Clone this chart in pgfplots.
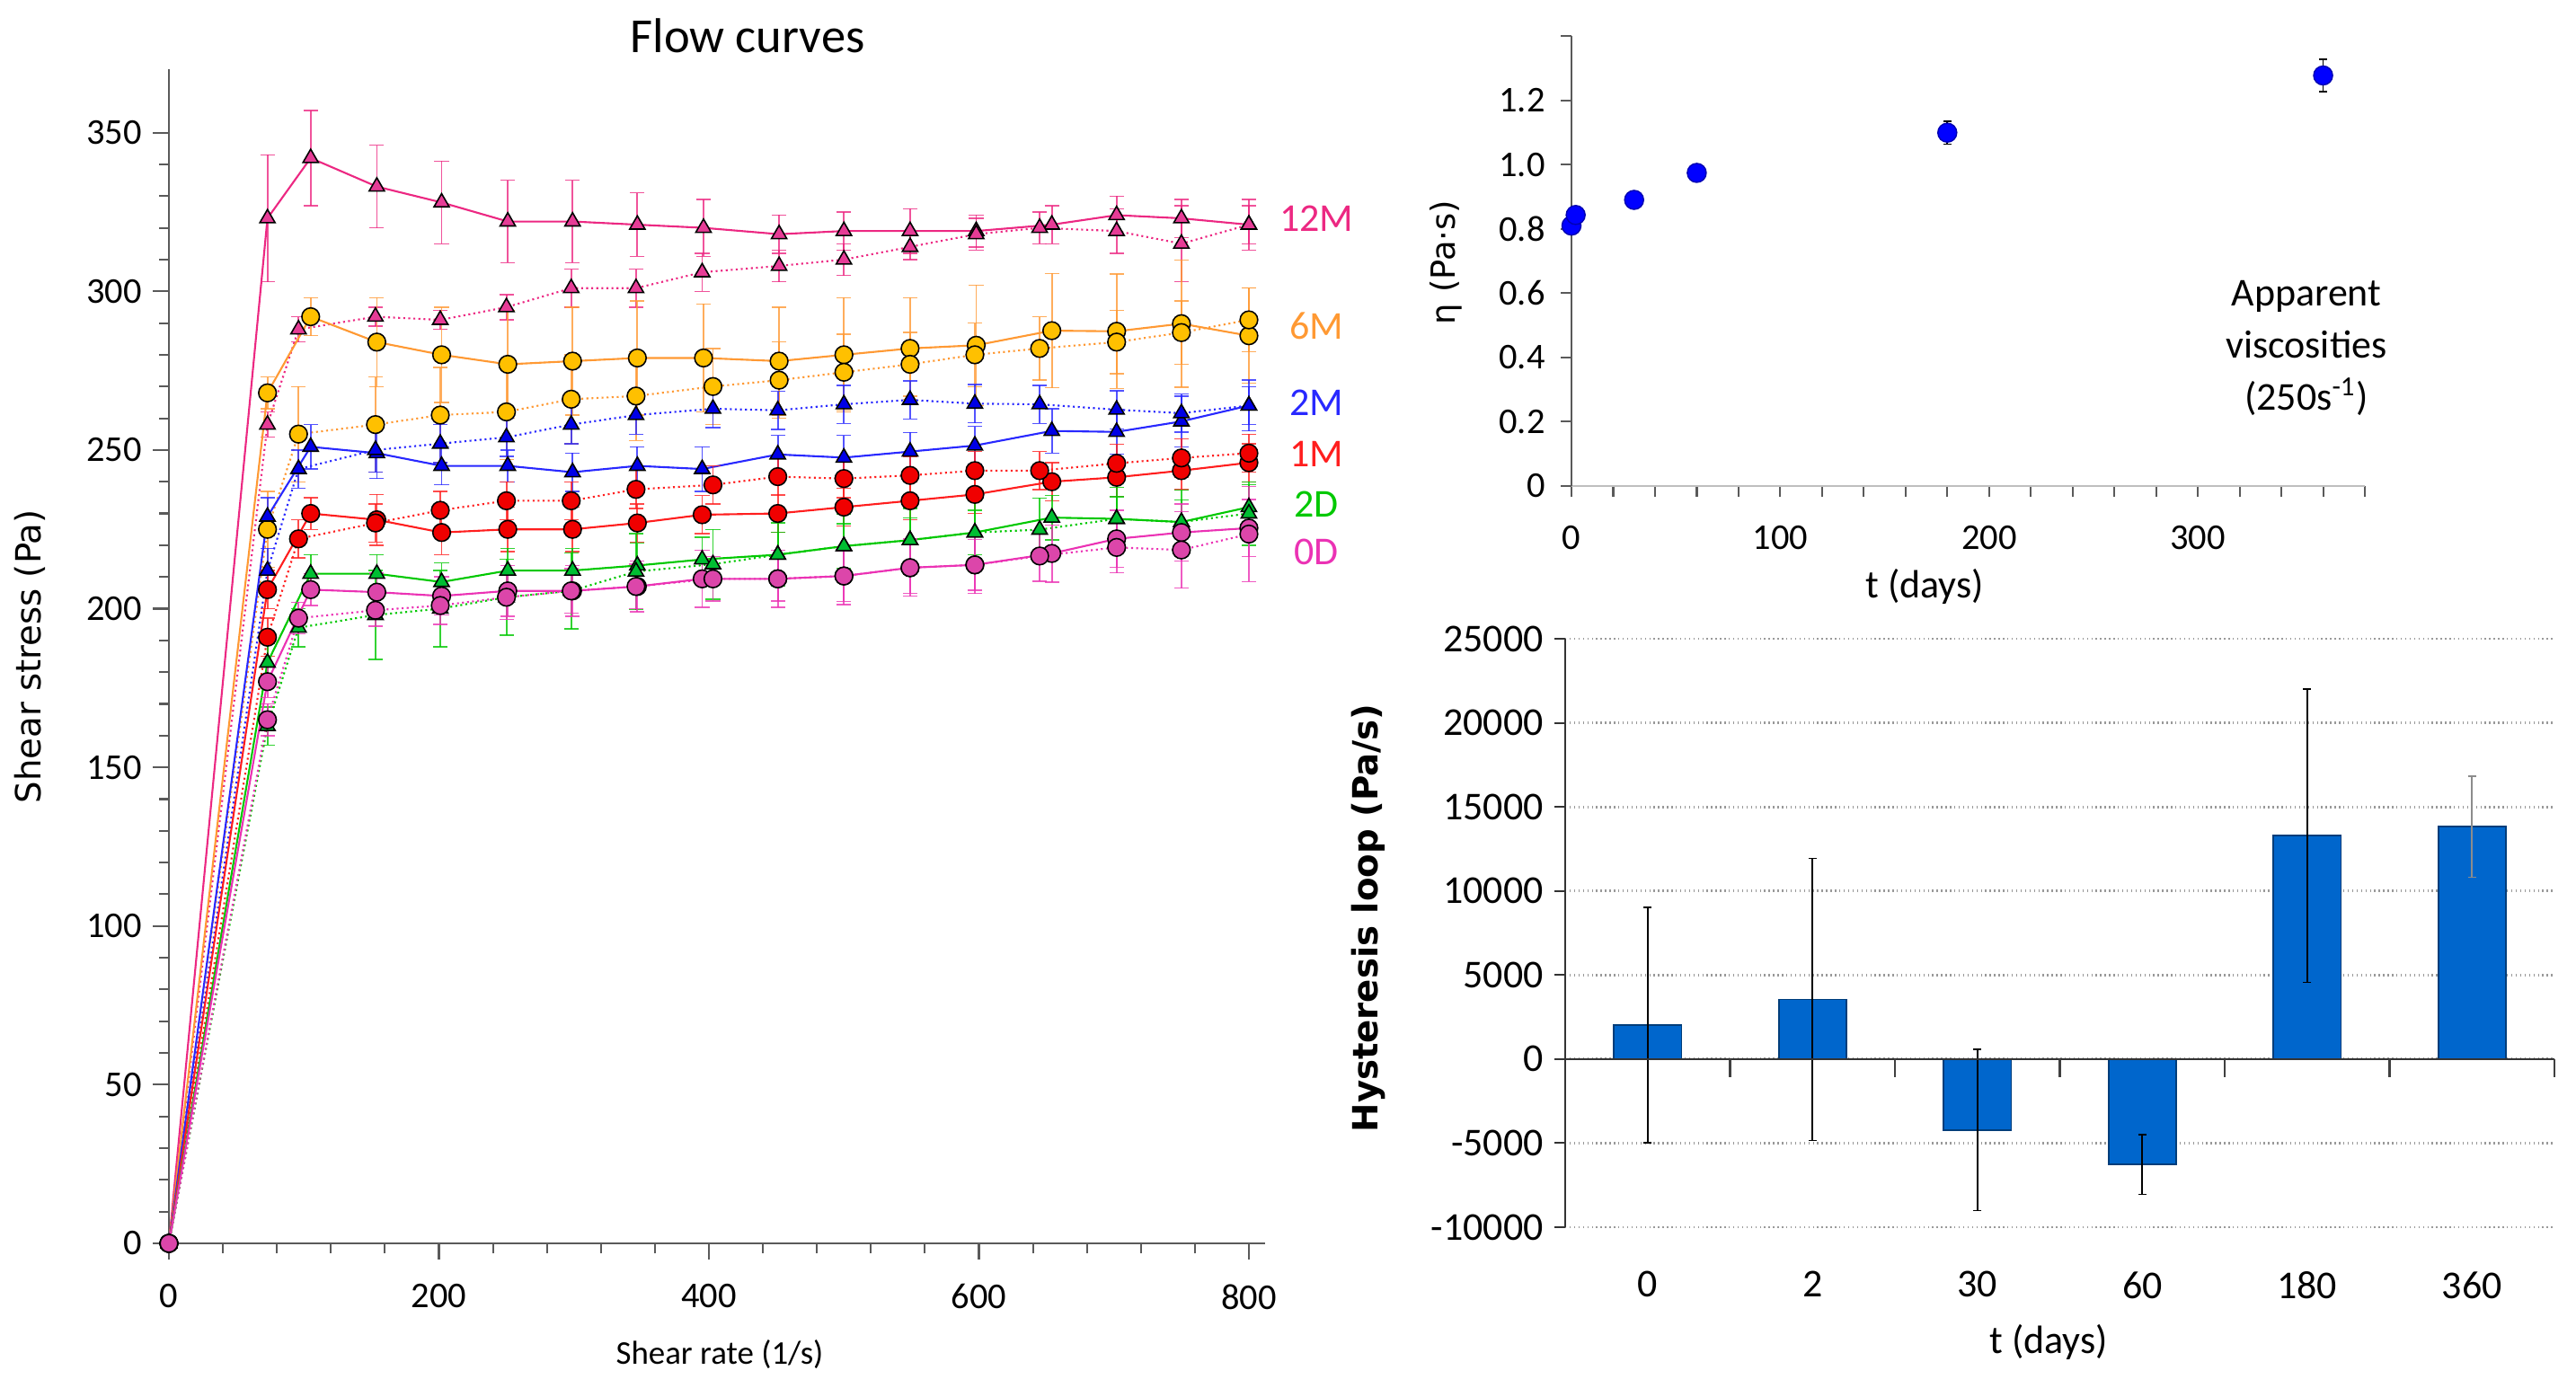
\documentclass[border=0pt]{standalone}
\usepackage{fontspec}
\setmainfont{Carlito}
\newfontfamily\dejavu{DejaVu Sans}
\usepackage{pgfplots}
\pgfplotsset{compat=1.18}

\definecolor{l12M}{RGB}{236,40,130}
\definecolor{f12M}{RGB}{230,60,150}
\definecolor{l6M}{RGB}{255,153,51}
\definecolor{f6M}{RGB}{255,192,0}
\definecolor{l2M}{RGB}{40,40,255}
\definecolor{f2M}{RGB}{0,0,230}
\definecolor{l1M}{RGB}{255,30,30}
\definecolor{f1M}{RGB}{240,0,0}
\definecolor{l2D}{RGB}{0,200,0}
\definecolor{f2D}{RGB}{0,190,50}
\definecolor{l0D}{RGB}{235,50,180}
\definecolor{f0D}{RGB}{220,70,170}
\definecolor{barblue}{RGB}{0,102,204}
\definecolor{axgray}{RGB}{90,90,90}

\pgfplotsset{
  flow/.style n args={3}{color=#1, line width=0.6pt, mark=#2, mark size=2.8pt,
    mark options={solid, fill=#3, draw=black, line width=0.45pt},
    error bars/.cd, y dir=both, y explicit,
    error bar style={#1, line width=0.5pt, solid, opacity=0.8},
    error mark options={rotate=90, mark size=2.3pt, #1, solid},
    /pgfplots/.cd},
  up/.style n args={3}{flow={#1}{#2}{#3}},
  down/.style n args={3}{flow={#1}{#2}{#3}, densely dotted},
  ticks11/.style={tick label style={font=\fontsize{11.5}{13}\selectfont},
    /pgf/number format/assume math mode=true},
}

\begin{document}
\begin{tikzpicture}
\useasboundingbox (0,0) rectangle (28.67,15.44);

% ---------------- flow curves ----------------
\begin{axis}[
  at={(1.88cm,1.60cm)}, anchor=south west,
  scale only axis, width=12.20cm, height=13.07cm,
  xmin=0, xmax=812, ymin=0, ymax=370,
  axis lines=left, axis line style={-, draw=axgray, line width=0.6pt},
  xtick={0,200,400,600,800}, ytick={0,50,...,350},
  minor x tick num=4, minor y tick num=4,
  tick align=outside, major tick length=0.18cm, minor tick length=0.11cm,
  tick style={axgray, line width=0.6pt},
  ticks11,
  xticklabel style={yshift=-0.15cm},
  clip=false,
]
% 12M
\addplot[up={l12M}{triangle*}{f12M}] coordinates {
 (0,0) +- (0,0) (73,323) +- (0,20) (105,342) +- (0,15) (154,333) +- (0,13)
 (202,328) +- (0,13) (251,322) +- (0,13) (299,322) +- (0,13) (347,321) +- (0,10)
 (396,320) +- (0,9) (452,318) +- (0,6) (500,319) +- (0,6) (549,319) +- (0,7)
 (598,319) +- (0,5) (654,321) +- (0,6) (702,324) +- (0,6) (750,323) +- (0,6)
 (800,321) +- (0,6)};
\addplot[down={l12M}{triangle*}{f12M}] coordinates {
 (0,0) +- (0,0) (73,258) +- (0,4) (96,288) +- (0,4) (153,292) +- (0,3)
 (201,291) +- (0,3) (250,295) +- (0,4) (298,301) +- (0,6) (346,301) +- (0,6)
 (395,306) +- (0,6) (452,308) +- (0,5) (500,310) +- (0,5) (549,314) +- (0,4)
 (598,318) +- (0,5) (645,320) +- (0,5) (702,319) +- (0,7) (750,315) +- (0,12)
 (800,321) +- (0,8)};
% 6M
\addplot[up={l6M}{*}{f6M}] coordinates {
 (0,0) +- (0,0) (73,268) +- (0,5) (105,292) +- (0,6) (154,284) +- (0,14)
 (202,280) +- (0,15) (251,277) +- (0,17) (299,278) +- (0,17) (347,279) +- (0,18)
 (396,279) +- (0,17) (452,278) +- (0,17) (500,280) +- (0,18) (549,282) +- (0,16)
 (598,283) +- (0,19) (654,287.6) +- (0,18) (702,287.4) +- (0,18) (750,289.8) +- (0,20)
 (800,286) +- (0,15)};
\addplot[down={l6M}{*}{f6M}] coordinates {
 (0,0) +- (0,0) (73,225) +- (0,12) (96,255) +- (0,15) (153,258) +- (0,15)
 (201,261) +- (0,15) (250,262) +- (0,15) (298,266) +- (0,14) (346,267) +- (0,14)
 (403,270) +- (0,12) (452,272) +- (0,12) (500,274.5) +- (0,12) (549,277) +- (0,10)
 (597,280) +- (0,10) (645,282) +- (0,10) (702,284) +- (0,10) (750,287) +- (0,10)
 (800,291) +- (0,10)};
% 2M
\addplot[up={l2M}{triangle*}{f2M}] coordinates {
 (0,0) +- (0,0) (73,229) +- (0,6) (105,251) +- (0,7) (154,249) +- (0,8)
 (202,245) +- (0,6) (251,245) +- (0,5) (299,243) +- (0,6) (347,245) +- (0,6)
 (395,244) +- (0,7) (451,248.6) +- (0,6) (500,247.6) +- (0,7) (549,249.5) +- (0,6)
 (597,251.4) +- (0,6) (654,256) +- (0,7) (702,255.7) +- (0,7) (750,259) +- (0,8)
 (800,264) +- (0,8)};
\addplot[down={l2M}{triangle*}{f2M}] coordinates {
 (0,0) +- (0,0) (73,212) +- (0,7) (96,244) +- (0,6) (153,250) +- (0,7)
 (201,252) +- (0,6) (250,254) +- (0,6) (298,258) +- (0,6) (346,261) +- (0,6)
 (403,263) +- (0,6) (451,262.5) +- (0,6) (500,264.4) +- (0,6) (549,265.8) +- (0,6)
 (597,264.6) +- (0,6) (645,264.4) +- (0,6) (702,262.7) +- (0,6) (750,261.6) +- (0,6)
 (800,264) +- (0,6)};
% 1M
\addplot[up={l1M}{*}{f1M}] coordinates {
 (0,0) +- (0,0) (73,206) +- (0,6) (105,230) +- (0,5) (154,228) +- (0,8)
 (202,224) +- (0,7) (251,225) +- (0,7) (299,225) +- (0,7) (347,227) +- (0,6)
 (395,229.6) +- (0,6) (451,230) +- (0,6) (500,232) +- (0,6) (549,234) +- (0,6)
 (597,236) +- (0,6) (654,240) +- (0,6) (702,241.4) +- (0,6) (750,243.5) +- (0,6)
 (800,246) +- (0,6)};
\addplot[down={l1M}{*}{f1M}] coordinates {
 (0,0) +- (0,0) (73,191) +- (0,6) (96,222) +- (0,6) (153,227) +- (0,6)
 (201,231) +- (0,6) (250,234) +- (0,6) (298,234) +- (0,6) (346,237.6) +- (0,6)
 (403,239) +- (0,6) (451,241.6) +- (0,6) (500,241) +- (0,6) (549,242) +- (0,6)
 (597,243.5) +- (0,6) (645,243.5) +- (0,6) (702,245.8) +- (0,6) (750,247.5) +- (0,6)
 (800,249) +- (0,6)};
% 2D
\addplot[up={l2D}{triangle*}{f2D}] coordinates {
 (0,0) +- (0,0) (73,183) +- (0,6) (105,211) +- (0,6) (154,211) +- (0,6)
 (202,208.4) +- (0,6) (251,212) +- (0,7) (299,212) +- (0,7) (347,213.6) +- (0,7)
 (395,215.5) +- (0,7) (451,217) +- (0,7) (500,219.7) +- (0,7) (549,221.6) +- (0,7)
 (597,224) +- (0,7) (654,228.7) +- (0,7) (702,228.3) +- (0,7) (750,227.3) +- (0,7)
 (800,232) +- (0,7)};
\addplot[down={l2D}{triangle*}{f2D}] coordinates {
 (0,0) +- (0,0) (73,163) +- (0,6) (96,194) +- (0,6) (153,198) +- (0,14)
 (201,200) +- (0,12) (250,203.6) +- (0,12) (298,205.6) +- (0,12) (346,211.7) +- (0,12)
 (403,214) +- (0,11) (451,217) +- (0,10) (500,219.7) +- (0,10) (549,221.6) +- (0,10)
 (597,224) +- (0,10) (645,224.9) +- (0,10) (702,228.3) +- (0,10) (750,227.3) +- (0,10)
 (800,230) +- (0,10)};
% 0D
\addplot[up={l0D}{*}{f0D}] coordinates {
 (0,0) +- (0,0) (73,177) +- (0,5) (105,206) +- (0,5) (154,205.2) +- (0,6)
 (202,204) +- (0,6) (251,205.6) +- (0,8) (299,205.6) +- (0,8) (347,207) +- (0,8)
 (395,209.4) +- (0,9) (451,209.4) +- (0,9) (500,210.3) +- (0,9) (549,212.9) +- (0,9)
 (597,213.8) +- (0,9) (654,217.4) +- (0,9) (702,222) +- (0,9) (750,224) +- (0,9)
 (800,225.4) +- (0,9)};
\addplot[down={l0D}{*}{f0D}] coordinates {
 (0,0) +- (0,0) (73,165) +- (0,5) (96,197) +- (0,5) (153,199.5) +- (0,5)
 (201,201) +- (0,6) (250,203.6) +- (0,7) (298,205.6) +- (0,7) (346,207) +- (0,7)
 (403,209.4) +- (0,7) (451,209.4) +- (0,7) (500,210.3) +- (0,8) (549,212.9) +- (0,8)
 (597,213.8) +- (0,8) (645,216.6) +- (0,8) (702,219.3) +- (0,8) (750,218.5) +- (0,12)
 (800,223.5) +- (0,15)};

\begin{scope}[font=\fontsize{12.5}{14}\selectfont]
\node[text=l12M] at (axis cs:850,322.8) {12M};
\node[text=l6M]  at (axis cs:850,289) {6M};
\node[text=l2M]  at (axis cs:850,264.8) {2M};
\node[text=l1M]  at (axis cs:850,248.7) {1M};
\node[text=l2D]  at (axis cs:850,233) {2D};
\node[text=l0D]  at (axis cs:850,218) {0D};
\end{scope}
\end{axis}

\node[font=\fontsize{15.5}{18}\selectfont] at (8.32,15.04) {Flow curves};
\node[font=\dejavu\fontsize{11}{13}\selectfont, rotate=90] at (0.33,8.13) {Shear stress (Pa)};
\node[font=\fontsize{10.5}{12}\selectfont] at (8.01,0.36) {Shear rate (1/s)};

% ---------------- apparent viscosity ----------------
\begin{axis}[
  at={(17.49cm,10.03cm)}, anchor=south west,
  scale only axis, width=8.83cm, height=5.01cm,
  xmin=0, xmax=380, ymin=0, ymax=1.4,
  axis lines=left, x axis line style={-, draw=black!25, line width=0.6pt},
  y axis line style={-, draw=axgray, line width=0.6pt},
  xtick={0,100,200,300}, minor xtick={20,40,...,380},
  ytick={0,0.2,0.4,0.6,0.8,1.0,1.2,1.4},
  yticklabels={0,0.2,0.4,0.6,0.8,1.0,1.2,},
  tick align=outside, major tick length=0.12cm, minor tick length=0.12cm,
  tick style={axgray, line width=0.6pt},
  ticks11,
  xticklabel style={yshift=-0.2cm},
  yticklabel style={xshift=-0.05cm},
  clip=false,
]
\addplot[only marks, mark=*, mark size=3pt,
  mark options={fill=blue, draw=blue!70!black, line width=0.4pt},
  error bars/.cd, y dir=both, y explicit,
  error bar style={black, line width=0.5pt},
  error mark options={rotate=90, mark size=1.2pt, black}]
  coordinates {
  (0,0.810) +- (0,0.012) (2,0.843) +- (0,0.015) (30,0.890) +- (0,0.010)
  (60,0.974) +- (0,0.015) (180,1.099) +- (0,0.035) (360,1.277) +- (0,0.050)};
\node[align=center, font=\fontsize{12.5}{16.5}\selectfont] at (axis cs:352,0.43)
  {Apparent\\viscosities\\(250s\textsuperscript{-1})};
\end{axis}
\node[font=\dejavu\fontsize{10.5}{12}\selectfont, rotate=90] at (16.09,12.52) {η (Pa·s)};
\node[font=\fontsize{12.5}{14}\selectfont] at (21.42,8.91) {t (days)};

% ---------------- hysteresis loop ----------------
\begin{axis}[
  at={(17.42cm,1.78cm)}, anchor=south west,
  scale only axis, width=11.01cm, height=6.55cm,
  xmin=-0.5, xmax=5.5, ymin=-10000, ymax=25000,
  axis lines=left, x axis line style={draw=none},
  y axis line style={-, draw=black!80, line width=0.6pt},
  xtick={0,...,5}, xticklabels={0,2,30,60,180,360},
  xtick style={draw=none},
  ytick={-10000,-5000,...,25000},
  scaled y ticks=false, /pgf/number format/1000 sep={},
  ymajorgrids, grid style={densely dotted, black!40, line width=0.8pt},
  tick align=outside, major tick length=0.12cm,
  ytick style={black!80, line width=0.6pt},
  tick label style={font=\fontsize{12.5}{14}\selectfont},
  /pgf/number format/assume math mode=true,
  xticklabel style={yshift=-0.25cm},
  clip=false,
]
\addplot[ybar, bar width=0.41, fill=barblue, draw=barblue!60!black, line width=0.5pt,
  error bars/.cd, y dir=both, y explicit,
  error bar style={black, line width=0.6pt},
  error mark options={rotate=90, mark size=1.3pt, black}]
  coordinates {
  (0,2030) +- (0,7000) (1,3550) +- (0,8400) (2,-4210) +- (0,4800)
  (3,-6270) +- (0,1780) (4,13280) +- (0,8730)};
\addplot[ybar, bar width=0.41, fill=barblue, draw=barblue!60!black, line width=0.5pt,
  error bars/.cd, y dir=both, y explicit,
  error bar style={black!45, line width=0.6pt},
  error mark options={rotate=90, mark size=1.3pt, black!45}]
  coordinates {(5,13820) +- (0,3000)};
\draw[black!80, line width=0.6pt] (axis cs:-0.5,0) -- (axis cs:5.5,0);
\pgfplotsinvokeforeach{0.5,1.5,2.5,3.5,4.5,5.5}{
  \draw[black!75, line width=0.7pt] (axis cs:#1,0) -- ([yshift=-0.2cm]axis cs:#1,0);}
\end{axis}
\node[font=\dejavu\bfseries\fontsize{11}{13}\selectfont, rotate=90] at (15.23,5.22) {Hysteresis loop (Pa/s)};
\node[font=\fontsize{12.5}{14}\selectfont] at (22.80,0.50) {t (days)};
\end{tikzpicture}
\end{document}
